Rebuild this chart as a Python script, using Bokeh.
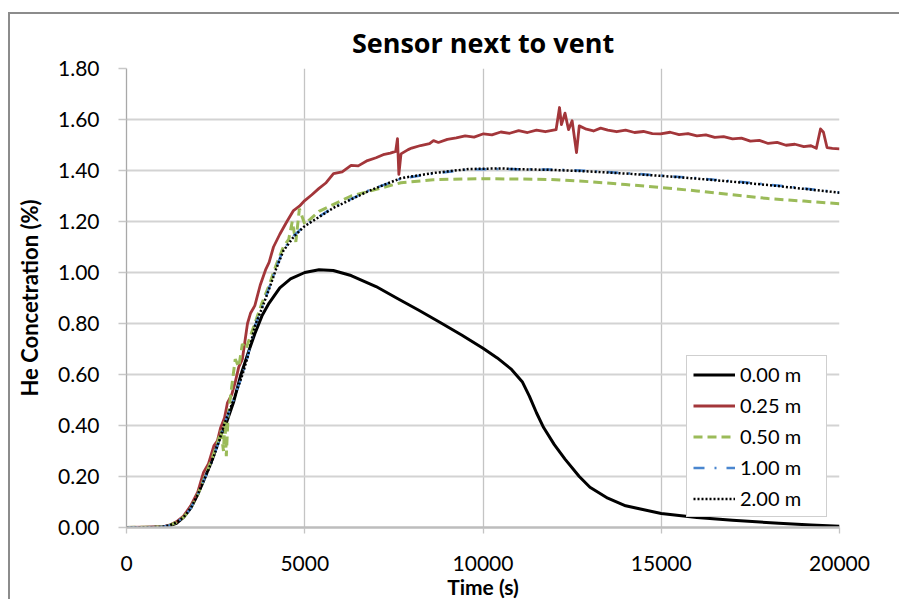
from bokeh.plotting import figure
from bokeh.models import FixedTicker, PrintfTickFormatter, Range1d
from bokeh.embed import file_html
from bokeh.resources import INLINE

FONT = "Lato"
TITLE_FONT = "Open Sans"

# ---- data (time in s, He concentration in %) ----
t_000 = [0, 500, 1000, 1200, 1400, 1600, 1800, 2000, 2200, 2400, 2600, 2800, 3000, 3200, 3400,
         3600, 3800, 4000, 4300, 4600, 5000, 5400, 5800, 6300, 7000, 7600, 8200, 8800, 9400,
         10000, 10400, 10800, 11100, 11300, 11500, 11700, 12000, 12300, 12700, 13000, 13500,
         14000, 15000, 16000, 17000, 18300, 19200, 20000]
c_000 = [0, 0, 0.002, 0.007, 0.016, 0.04, 0.075, 0.13, 0.195, 0.265, 0.345, 0.41, 0.49, 0.595,
         0.68, 0.76, 0.83, 0.88, 0.94, 0.975, 1.0, 1.011, 1.008, 0.988, 0.945, 0.898, 0.852,
         0.804, 0.755, 0.703, 0.665, 0.62, 0.572, 0.515, 0.45, 0.392, 0.325, 0.268, 0.2, 0.158,
         0.115, 0.085, 0.055, 0.039, 0.028, 0.017, 0.01, 0.005]

t_025 = [0, 1000, 1200, 1400, 1600, 1800, 2000, 2160, 2300, 2450, 2550, 2637, 2750, 2833, 2950,
         3050, 3150, 3250, 3394, 3478, 3600, 3750, 3900, 4000, 4123, 4300, 4500, 4684, 4850,
         5000, 5200, 5400, 5600, 5806, 6050, 6300, 6500, 6760, 7000, 7200, 7400, 7550, 7601,
         7640, 7700, 7900, 8000, 8250, 8500, 8612, 8750, 9000, 9250, 9500, 9750, 10014, 10250,
         10500, 10750, 11000, 11250, 11500, 11750, 11900, 12050, 12146, 12200, 12300, 12400,
         12500, 12623, 12700, 12900, 13100, 13300, 13500, 13750, 14000, 14250, 14500, 14750,
         14980, 15250, 15500, 15750, 16000, 16250, 16500, 16750, 17000, 17250, 17500, 17750,
         18000, 18250, 18500, 18750, 19000, 19200, 19350, 19467, 19550, 19650, 19800, 20000]
c_025 = [0, 0.002, 0.009, 0.022, 0.045, 0.085, 0.14, 0.216, 0.25, 0.32, 0.34, 0.39, 0.43, 0.49,
         0.52, 0.57, 0.63, 0.66, 0.80, 0.84, 0.87, 0.95, 1.01, 1.04, 1.10, 1.15, 1.20, 1.243,
         1.26, 1.282, 1.305, 1.33, 1.352, 1.388, 1.395, 1.42, 1.418, 1.439, 1.45, 1.462, 1.468,
         1.475, 1.525, 1.385, 1.465, 1.482, 1.488, 1.498, 1.505, 1.517, 1.51, 1.522, 1.528,
         1.536, 1.531, 1.544, 1.54, 1.551, 1.546, 1.556, 1.549, 1.558, 1.552, 1.556, 1.56,
         1.647, 1.58, 1.625, 1.56, 1.595, 1.47, 1.575, 1.562, 1.555, 1.566, 1.558, 1.552, 1.558,
         1.549, 1.553, 1.545, 1.544, 1.55, 1.541, 1.545, 1.536, 1.54, 1.53, 1.533, 1.524, 1.527,
         1.515, 1.518, 1.506, 1.51, 1.499, 1.503, 1.494, 1.497, 1.487, 1.563, 1.55, 1.49, 1.487,
         1.485]

t_050 = [0, 1000, 1200, 1400, 1600, 1800, 2000, 2200, 2400, 2550, 2650, 2720, 2760, 2800, 2850,
         2950, 3050, 3150, 3250, 3350, 3450, 3600, 3800, 4000, 4200, 4400, 4550, 4650, 4750,
         4850, 5000, 5400, 6300, 7700, 8600, 10000, 11900, 13000, 14000, 15000, 16000, 17000,
         18000, 19000, 20000]
c_050 = [0, 0.002, 0.008, 0.02, 0.04, 0.075, 0.13, 0.2, 0.27, 0.33, 0.38, 0.30, 0.42, 0.28,
         0.44, 0.55, 0.66, 0.63, 0.72, 0.70, 0.74, 0.80, 0.88, 0.95, 1.03, 1.10, 1.13, 1.20,
         1.12, 1.25, 1.19, 1.24, 1.30, 1.352, 1.364, 1.368, 1.365, 1.356, 1.345, 1.333, 1.32,
         1.305, 1.29, 1.28, 1.27]

t_100 = [0, 1000, 1200, 1400, 1600, 1800, 2000, 2200, 2400, 2600, 2730, 3000, 3254, 3400, 3600,
         3800, 4000, 4200, 4400, 4700, 5000, 5800, 6800, 7700, 8600, 9600, 10500, 11000, 12000,
         13000, 14000, 15000, 16000, 17000, 18000, 19000, 20000]
c_100 = [0, 0.002, 0.008, 0.02, 0.04, 0.075, 0.13, 0.195, 0.26, 0.34, 0.40, 0.50, 0.60, 0.67,
         0.79, 0.86, 0.94, 1.02, 1.09, 1.145, 1.184, 1.255, 1.322, 1.368, 1.388, 1.404, 1.406,
         1.405, 1.404, 1.398, 1.39, 1.38, 1.37, 1.358, 1.345, 1.33, 1.314]

t_200 = [0, 1000, 1200, 1400, 1600, 1800, 2000, 2200, 2400, 2600, 2730, 3000, 3254, 3400, 3600,
         3800, 4000, 4200, 4400, 4700, 5000, 5800, 6800, 7700, 8600, 9600, 10500, 11000, 12000,
         13000, 14000, 15000, 16000, 17000, 18000, 19000, 20000]
c_200 = [0, 0.002, 0.008, 0.02, 0.04, 0.075, 0.13, 0.195, 0.26, 0.34, 0.40, 0.50, 0.60, 0.67,
         0.79, 0.86, 0.935, 1.015, 1.085, 1.142, 1.182, 1.253, 1.32, 1.37, 1.39, 1.406, 1.408,
         1.405, 1.402, 1.396, 1.388, 1.379, 1.368, 1.356, 1.343, 1.328, 1.313]

x_ticks = [0, 5000, 10000, 15000, 20000]
y_ticks = [0, 0.2, 0.4, 0.6, 0.8, 1.0, 1.2, 1.4, 1.6, 1.8]

p = figure(width=891, height=587, output_backend="svg", toolbar_location=None,
           x_range=Range1d(0, 20000), y_range=Range1d(0, 1.8),
           min_border_left=116, min_border_right=62, min_border_top=54, min_border_bottom=74,
           title="Sensor next to vent")
p.styles = {"margin-top": "12px", "margin-left": "8px",
            "border-top": "2px solid #8c8c8c", "border-left": "2px solid #8c8c8c"}
p.outline_line_color = None
p.background_fill_color = "white"
p.border_fill_color = "white"

p.title.align = "center"
p.title.text_font = TITLE_FONT
p.title.text_font_size = "27px"
p.title.text_font_style = "bold"
p.title.text_color = "black"
p.title.standoff = 15

# grids
p.ygrid.grid_line_color = "#d3d3d3"
p.ygrid.grid_line_width = 2
p.xgrid.grid_line_color = "#c4c4c4"
p.xgrid.grid_line_width = 1.3

# axes
p.xaxis.ticker = FixedTicker(ticks=x_ticks)
p.yaxis.ticker = FixedTicker(ticks=y_ticks)
p.yaxis.formatter = PrintfTickFormatter(format="%.2f")
for ax in (p.xaxis[0], p.yaxis[0]):
    ax.major_label_text_font = FONT
    ax.major_label_text_font_size = "21px"
    ax.major_label_text_color = "black"
    ax.minor_tick_line_color = None
    ax.major_tick_in = 0
    ax.axis_label_text_font = FONT
    ax.axis_label_text_font_style = "bold"
    ax.axis_label_text_color = "black"
p.yaxis.axis_line_color = "#a8a8a8"
p.yaxis.axis_line_width = 1.3
p.yaxis.major_tick_out = 8
p.yaxis.major_tick_line_color = "#c8c8c8"
p.yaxis.major_tick_line_width = 1.5
p.yaxis.major_label_standoff = 19
p.yaxis.axis_label = "He Concetration (%)"
p.yaxis.axis_label_text_font_size = "22px"
p.yaxis.axis_label_standoff = 12

p.xaxis.axis_line_color = "#bdbdbd"
p.xaxis.axis_line_width = 2.5
p.xaxis.major_tick_out = 6
p.xaxis.major_tick_line_color = "#c4c4c4"
p.xaxis.major_tick_line_width = 1.3
p.xaxis.major_label_standoff = 22
p.xaxis.axis_label = "Time (s)"
p.xaxis.axis_label_text_font_size = "21px"
p.xaxis.axis_label_standoff = 0

# series (Excel draws later series on top)
p.line(t_000, c_000, line_color="black", line_width=3, line_join="round", legend_label="0.00 m")
p.line(t_025, c_025, line_color="#a3363a", line_width=2.8, line_join="round", legend_label="0.25 m")
p.line(t_050, c_050, line_color="#9bbb59", line_width=3, line_dash="9 5", legend_label="0.50 m")
p.line(t_100, c_100, line_color="#4a86cf", line_width=2.5, line_dash="11 10 2 10", legend_label="1.00 m")
p.line(t_200, c_200, line_color="black", line_width=2.5, line_dash="2 2", legend_label="2.00 m")

lg = p.legend[0]
lg.location = (560, 10)
lg.margin = 0
lg.padding = 6
lg.spacing = 7
lg.glyph_width = 42
lg.glyph_height = 21
lg.label_height = 21
lg.label_width = 80
lg.label_standoff = 5
lg.label_text_font = FONT
lg.label_text_font_size = "20px"
lg.label_text_color = "black"
lg.border_line_color = "#a0a0a0"
lg.border_line_width = 1.5
lg.background_fill_alpha = 1

open("out.html", "w").write(file_html(p, INLINE))
